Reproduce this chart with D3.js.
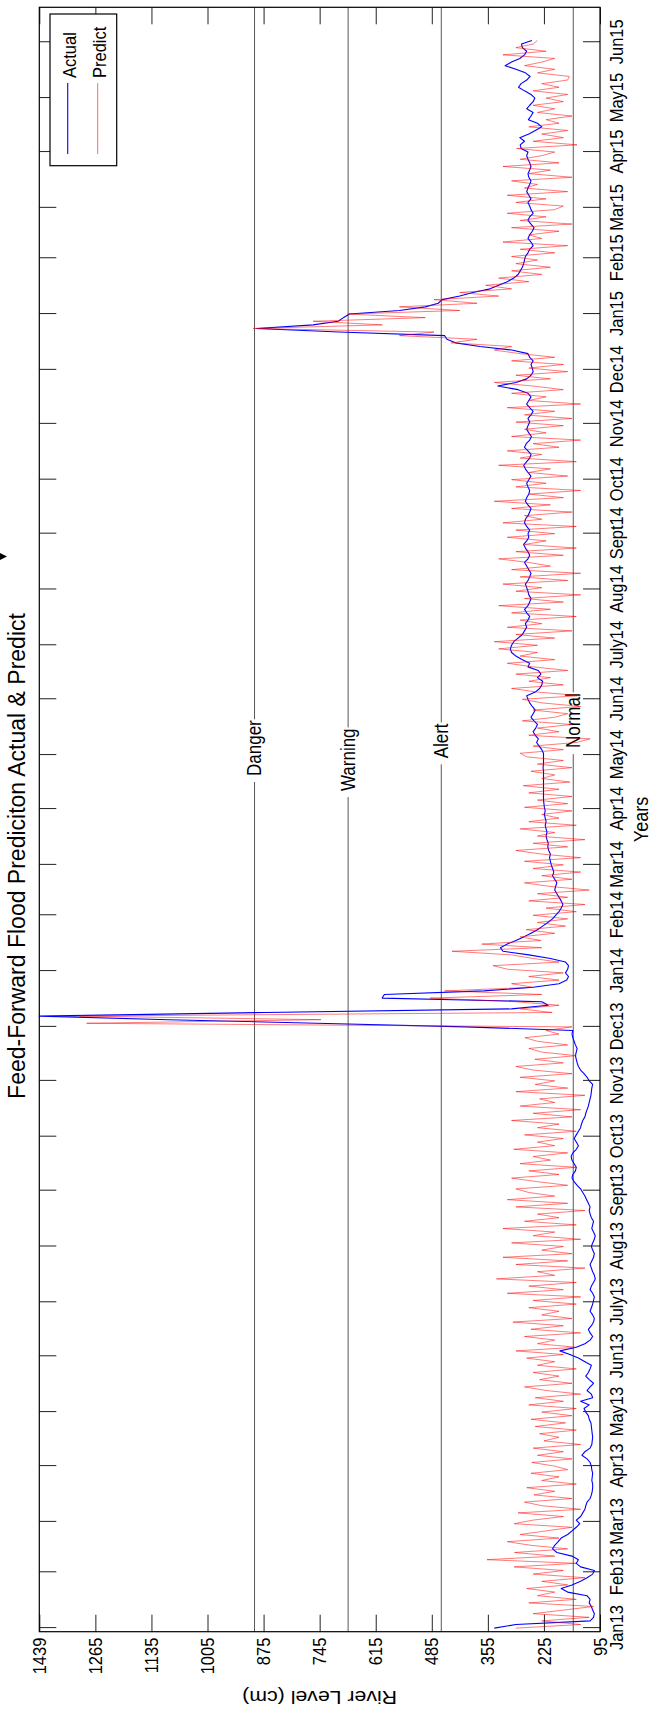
<!DOCTYPE html>
<html>
<head>
<meta charset="utf-8">
<script src="https://cdn.jsdelivr.net/npm/d3@7"></script>
<style>
html, body { margin: 0; padding: 0; background: #fff; }
svg { display: block; font-family: "Liberation Sans", Arial, Helvetica, sans-serif; }
</style>
</head>
<body>
<svg id="chart" width="669" height="1712"></svg>
<script>
// ---------------- DATA ----------------
const seriesStart = new Date(2013, 0, 1);   // first sample
const sampleStepDays = 2;                   // one value every 2 days

// Actual river level (cm), one value per 2 days, Jan 2013 -> Jun 2015
const actualLevel = [
  /*Jan13*/ 340, 290, 118, 110, 108, 112, 115, 120, 118, 125, 170, 185, 160, 140, 125, 112,
  /*Feb13*/ 108, 140, 150, 145, 160, 195, 205, 200, 192, 185, 170, 160, 150, 142,
  /*Mar13*/ 150, 140, 135, 130, 128, 125, 118, 115, 113, 112, 112, 114, 113, 112, 114,
  /*Apr13*/ 115, 118, 125, 137, 130, 118, 114, 113, 112, 113, 114, 115, 116, 120, 122,
  /*May13*/ 128, 132, 120, 140, 112, 115, 125, 118, 110, 120, 128, 122, 118, 115, 130, 145,
  /*Jun13*/ 165, 188, 150, 130, 118, 112, 118, 122, 115, 110, 108, 112, 118, 115, 112,
  /*Jul13*/ 110, 108, 112, 118, 115, 110, 106, 108, 112, 115, 118, 114, 110, 108, 112,
  /*Aug13*/ 115, 112, 108, 106, 110, 114, 112, 110, 115, 118, 120, 118, 122, 126, 130, 135,
  /*Sep13*/ 140, 148, 155, 160, 158, 152, 150, 155, 160, 162, 158, 150, 145, 150, 155,
  /*Oct13*/ 150, 145, 140, 138, 135, 130, 128, 125, 122, 120, 118, 116, 115, 114, 112,
  /*Nov13*/ 120, 125, 132, 140, 145, 148, 150, 152, 150, 148, 152, 155, 158, 160, 158,
  /*Dec13*/ 408, 752, 1095, 1439, 870, 300, 215, 230, 600, 595, 364, 250, 190, 172, 168, 175,
  /*Jan14*/ 170, 168, 175, 210, 260, 320, 326, 310, 290, 272, 255, 240, 228, 216, 205,
  /*Feb14*/ 198, 190, 185, 181, 185, 190, 195, 200, 198, 195, 200, 205, 202, 205,
  /*Mar14*/ 208, 210, 212, 210, 214, 216, 215, 218, 220, 218, 220, 222, 220, 222, 224, 222,
  /*Apr14*/ 224, 225, 226, 226, 226, 226, 226, 226, 226, 226, 226, 227, 226, 226, 226,
  /*May14*/ 226, 230, 236, 242, 238, 245, 250, 244, 240, 248, 255, 250, 245, 252, 258,
  /*Jun14*/ 262, 265, 245, 235, 230, 228, 240, 232, 238, 262, 258, 275, 290, 300, 303,
  /*Jul14*/ 300, 295, 285, 275, 270, 265, 268, 262, 258, 265, 270, 262, 258, 255, 260, 262,
  /*Aug14*/ 265, 268, 262, 258, 255, 260, 265, 270, 262, 258, 262, 268, 272, 265, 260,
  /*Sep14*/ 262, 258, 265, 270, 268, 262, 258, 255, 262, 268, 265, 260, 258, 262, 265,
  /*Oct14*/ 260, 255, 262, 268, 272, 265, 258, 255, 262, 270, 266, 258, 254, 260, 265, 262,
  /*Nov14*/ 258, 262, 255, 250, 258, 265, 260, 255, 262, 285, 332, 290, 265, 255, 250,
  /*Dec14*/ 252, 255, 250, 258, 262, 300, 373, 430, 450, 455, 700, 891, 760, 702, 690,
  /*Jan15*/ 676, 560, 500, 470, 461, 420, 390, 350, 330, 310, 295, 285, 280, 275, 272, 270,
  /*Feb15*/ 268, 262, 258, 250, 255, 262, 258, 252, 248, 255, 262, 258, 250, 255,
  /*Mar15*/ 258, 262, 255, 260, 265, 262, 258, 255, 260, 262, 258, 255, 258, 262, 265,
  /*Apr15*/ 262, 278, 280, 270, 281, 260, 245, 230, 240, 261, 255, 250, 265, 258, 250,
  /*May15*/ 246, 255, 270, 284, 278, 265, 257, 268, 290, 315, 300, 281, 270, 265, 275, 277,
  /*Jun15*/ 253
];

// Feed-forward predicted river level (cm), same sampling
const predictLevel = [
  /*Jan13*/ 290, 140, 230, 120, 250, 180, 110, 260, 150, 240, 200, 265, 170, 230, 130, 250,
  /*Feb13*/ 180, 294, 150, 357, 200, 293, 170, 255, 310, 190, 280, 220, 160, 294,
  /*Mar13*/ 250, 180, 285, 140, 230, 270, 160, 248, 200, 265, 150, 230, 190, 255, 170,
  /*Apr13*/ 200, 253, 160, 240, 180, 250, 140, 225, 190, 235, 150, 245, 175, 255, 160,
  /*May13*/ 230, 150, 260, 180, 245, 140, 220, 270, 160, 235, 190, 250, 150, 240, 200, 265,
  /*Jun13*/ 180, 290, 150, 240, 200, 270, 140, 255, 180, 297, 160, 230, 190, 260, 150,
  /*Jul13*/ 250, 140, 310, 180, 260, 150, 335, 200, 240, 130, 290, 170, 320, 160, 230,
  /*Aug13*/ 180, 300, 140, 250, 200, 320, 150, 270, 190, 240, 130, 290, 170, 310, 200, 260,
  /*Sep13*/ 290, 170, 240, 300, 190, 260, 150, 280, 210, 250, 170, 295, 200, 240, 180,
  /*Oct13*/ 270, 150, 240, 190, 300, 160, 250, 140, 280, 200, 235, 130, 290, 170, 245,
  /*Nov13*/ 200, 280, 160, 250, 290, 180, 246, 150, 230, 260, 170, 240, 269, 190, 220,
  /*Dec13*/ 160, 1292, 742, 1315, 206, 280, 190, 292, 489, 230, 455, 250, 300, 190, 260, 180,
  /*Jan14*/ 309, 343, 190, 250, 300, 438, 230, 369, 232, 280, 200, 266, 175, 240, 170,
  /*Feb14*/ 250, 150, 220, 130, 260, 170, 240, 120, 210, 270, 160, 230, 140, 250,
  /*Mar14*/ 180, 270, 140, 230, 290, 170, 250, 130, 240, 200, 280, 150, 260, 190, 230, 160,
  /*Apr14*/ 270, 170, 240, 160, 260, 190, 273, 165, 230, 200, 255, 160, 240, 180, 265,
  /*May14*/ 280, 180, 250, 150, 118, 260, 190, 240, 160, 275, 200, 170, 250, 140, 230,
  /*Jun14*/ 275, 140, 240, 300, 180, 260, 210, 290, 170, 250, 310, 200, 280, 240, 330,
  /*Jul14*/ 240, 340, 200, 290, 160, 310, 230, 280, 150, 300, 210, 330, 180, 270, 140, 290,
  /*Aug14*/ 230, 320, 170, 280, 140, 300, 210, 260, 330, 180, 290, 150, 270, 220, 310,
  /*Sep14*/ 200, 290, 150, 320, 230, 270, 160, 300, 210, 340, 180, 260, 140, 290, 220,
  /*Oct14*/ 300, 170, 260, 210, 330, 150, 280, 230, 310, 190, 250, 140, 300, 220, 270, 180,
  /*Nov14*/ 290, 160, 270, 200, 310, 140, 260, 220, 300, 180, 250, 340, 210, 290, 170,
  /*Dec14*/ 260, 180, 300, 200, 280, 340, 300, 440, 380, 560, 480, 899, 600, 760, 500,
  /*Jan15*/ 680, 420, 560, 380, 480, 330, 420, 300, 360, 260, 330, 230, 300, 210, 290, 240,
  /*Feb15*/ 300, 200, 280, 170, 320, 230, 260, 190, 300, 160, 280, 220, 310, 200,
  /*Mar15*/ 180, 290, 220, 310, 170, 270, 240, 300, 160, 260, 210, 320, 190, 280, 230,
  /*Apr15*/ 200, 288, 148, 250, 180, 230, 170, 260, 190, 220, 160, 240, 200, 250, 180,
  /*May15*/ 220, 170, 250, 190, 230, 170, 166, 240, 200, 270, 230, 200, 320, 220, 290, 250,
  /*Jun15*/ 240
];

const monthTickLabels = ["Jan13","Feb13","Mar13","Apr13","May13","Jun13","July13","Aug13","Sept13","Oct13","Nov13","Dec13",
  "Jan14","Feb14","Mar14","Apr14","May14","Jun14","July14","Aug14","Sept14","Oct14","Nov14","Dec14",
  "Jan15","Feb15","Mar15","Apr15","May15","Jun15"];
const levelTickValues = [95, 225, 355, 485, 615, 745, 875, 1005, 1135, 1265, 1439];
const levelTickLabels = ["95","225","355","485","615","745","875","1005","1135","1265","1439"];

const thresholdNames  = ["Danger", "Warning", "Alert", "Normal"];
const thresholdLevels = [896, 679, 463, 157];
const thresholdLabelEnd = [new Date(2014,4,20,8), new Date(2014,4,15,19), new Date(2014,4,18,14), new Date(2014,5,4,7)];

const seriesNames = ["Actual", "Predict"];

// ---------------- LAYOUT (drawn in un-rotated frame, then rotated -90deg) ----------------
const PAGE_W = 669, PAGE_H = 1712;
const plot = { u0: 80.3, u1: 1704.7, v0: 39.3, v1: 600 };
const tickLen = 17;
const fs = 16.5;
const STRETCH = 1.15;   // glyphs in the reference are taller across the page

if (actualLevel.length !== predictLevel.length) console.error("length mismatch", actualLevel.length, predictLevel.length);

const svg = d3.select("#chart");
const g = svg.append("g").attr("transform", `translate(0,${PAGE_H}) rotate(-90)`);

const x = d3.scaleTime()
  .domain([new Date(2012, 11, 30), new Date(2015, 5, 20, 10)])
  .range([plot.u0, plot.u1]);
const stepPx = (plot.v1 - plot.v0) / 10;
const y = d3.scaleLinear()
  .domain([95, 1265, 1439])
  .range([plot.v1, plot.v1 - 9 * stepPx, plot.v0]);

const monthDates = d3.timeMonth.range(new Date(2013, 0, 1), new Date(2015, 5, 2));

function stretchedText(parent, u, v, s = STRETCH) {
  return parent.append("text").attr("transform", `translate(${u},${v}) scale(1,${s})`);
}

// plot background
g.append("rect").attr("x", plot.u0).attr("y", plot.v0)
  .attr("width", plot.u1 - plot.u0).attr("height", plot.v1 - plot.v0).attr("fill", "#fff");

// threshold lines (drawn before data)
const thrG = g.append("g");
thresholdNames.forEach((name, i) => {
  const vy = y(thresholdLevels[i]);
  const uEnd = x(thresholdLabelEnd[i]);
  const t = stretchedText(thrG, uEnd, vy)
    .attr("text-anchor", "end")
    .attr("dominant-baseline", "central")
    .attr("font-size", 17)
    .attr("fill", "#000")
    .text(name);
  const w = t.node().getComputedTextLength();
  const uStart = uEnd - w;
  thrG.append("line").attr("x1", plot.u0).attr("x2", uStart - 6)
    .attr("y1", vy).attr("y2", vy).attr("stroke", "#444").attr("stroke-width", 0.9);
  thrG.append("line").attr("x1", uEnd + 1).attr("x2", plot.u1)
    .attr("y1", vy).attr("y2", vy).attr("stroke", "#444").attr("stroke-width", 0.9);
});

// data lines
const dateAt = i => d3.timeDay.offset(seriesStart, i * sampleStepDays);
const line = d3.line().x((d, i) => x(dateAt(i))).y(d => y(d));

g.append("path").datum(actualLevel)
  .attr("fill", "none").attr("stroke", "#0000ff").attr("stroke-width", 1.1)
  .attr("stroke-linejoin", "round").attr("d", line);
g.append("path").datum(predictLevel)
  .attr("fill", "none").attr("stroke", "#ff0000").attr("stroke-width", 0.8)
  .attr("stroke-opacity", 0.65).attr("stroke-linejoin", "round").attr("d", line);

// axes
const axBottom = d3.axisBottom(x).tickValues(monthDates)
  .tickFormat((d, i) => monthTickLabels[i]).tickSizeInner(-tickLen).tickSizeOuter(0).tickPadding(8.5);
const axTop = d3.axisTop(x).tickValues(monthDates).tickFormat("").tickSizeInner(-tickLen).tickSizeOuter(0);
const axLeft = d3.axisLeft(y).tickValues(levelTickValues)
  .tickFormat((d, i) => levelTickLabels[i]).tickSizeInner(-tickLen).tickSizeOuter(0).tickPadding(6);
const axRight = d3.axisRight(y).tickValues(levelTickValues).tickFormat("").tickSizeInner(-tickLen).tickSizeOuter(0);

function styleAxis(sel) {
  sel.select(".domain").remove();
  sel.selectAll(".tick line").attr("stroke", "#222").attr("stroke-width", 1);
  sel.selectAll(".tick text").attr("font-size", fs).attr("fill", "#000")
     .attr("font-family", '"Liberation Sans", Arial, Helvetica, sans-serif')
     .attr("transform", `scale(1,${STRETCH})`);
}
g.append("g").attr("transform", `translate(0,${plot.v1})`).call(axBottom).call(styleAxis);
g.append("g").attr("transform", `translate(0,${plot.v0})`).call(axTop).call(styleAxis);
g.append("g").attr("transform", `translate(${plot.u0},0)`).call(axLeft).call(styleAxis);
g.append("g").attr("transform", `translate(${plot.u1},0)`).call(axRight).call(styleAxis);

// frame
g.append("rect").attr("x", plot.u0).attr("y", plot.v0)
  .attr("width", plot.u1 - plot.u0).attr("height", plot.v1 - plot.v0)
  .attr("fill", "none").attr("stroke", "#000").attr("stroke-width", 1.2);

// titles
const uMid = (plot.u0 + plot.u1) / 2;
stretchedText(g, PAGE_H - 856, 24.5, 1).attr("text-anchor", "middle")
  .attr("font-size", 23).attr("fill", "#000")
  .text("Feed-Forward Flood Prediciton Actual & Predict");
stretchedText(g, uMid, 648).attr("text-anchor", "middle")
  .attr("font-size", 18).attr("fill", "#000").text("Years");
g.append("text").attr("transform", `translate(14.5,${(plot.v0 + plot.v1) / 2}) scale(1,${STRETCH}) rotate(-90)`)
  .attr("text-anchor", "middle").attr("dominant-baseline", "central")
  .attr("font-size", 18.5).attr("fill", "#000").text("River Level (cm)");

// legend
const leg = { u0: 1546.3, u1: 1698, v0: 50, v1: 116.7 };
g.append("rect").attr("x", leg.u0).attr("y", leg.v0)
  .attr("width", leg.u1 - leg.u0).attr("height", leg.v1 - leg.v0)
  .attr("fill", "#fff").attr("stroke", "#000").attr("stroke-width", 1.2);
const legColors = ["#0000ff", "#ff0000"];
const legOpac = [1, 0.65];
const legRows = [67.7, 97.7];
seriesNames.forEach((name, i) => {
  g.append("line").attr("x1", 1558).attr("x2", 1629).attr("y1", legRows[i]).attr("y2", legRows[i])
    .attr("stroke", legColors[i]).attr("stroke-width", i ? 0.9 : 1.1).attr("stroke-opacity", legOpac[i]);
  stretchedText(g, 1634, legRows[i] + 2.3)
    .attr("dominant-baseline", "central").attr("font-size", fs).attr("fill", "#000").text(name);
});

// small clipped marker at the page edge
svg.append("path").attr("d", "M0,553 L0,560 L7,556.5 Z").attr("fill", "#000");
</script>
</body>
</html>
